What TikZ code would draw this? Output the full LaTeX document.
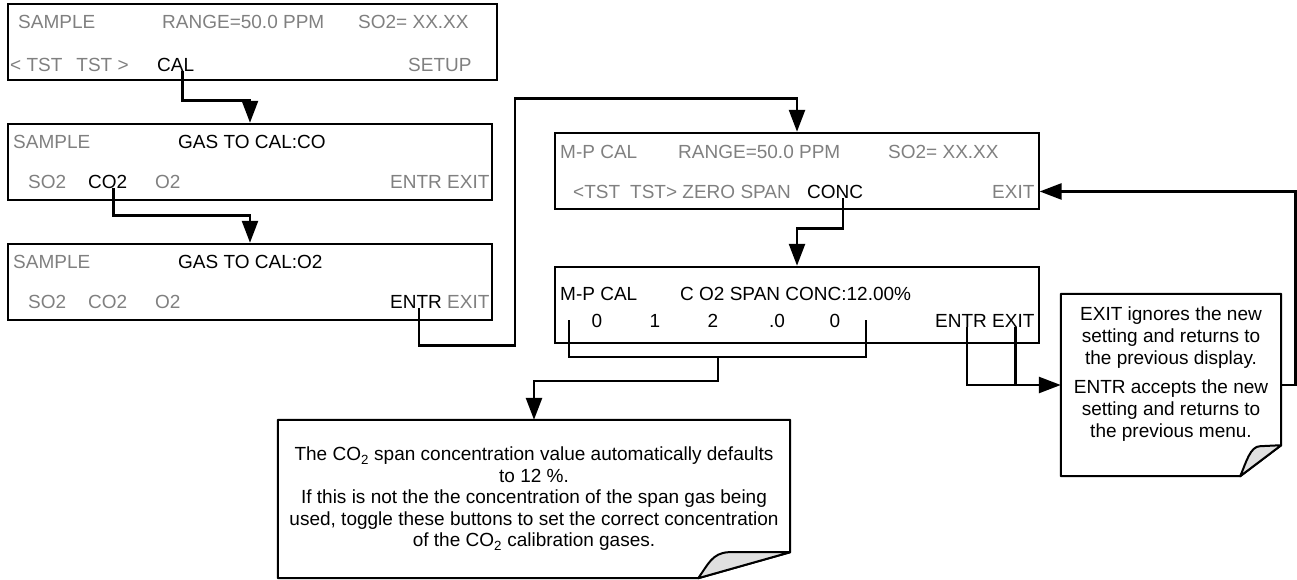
\documentclass[tikz,border=0pt]{standalone}
\usepackage{fontspec}
\setmainfont{Liberation Sans}
\usetikzlibrary{arrows.meta}
\definecolor{dimtext}{RGB}{128,128,128}

\begin{document}
\begin{tikzpicture}[
    x=1pt, y=-1pt,
    font=\fontsize{19}{22}\selectfont,
    display/.style={draw, line width=2.5pt, minimum width=484pt, minimum height=76pt, inner sep=0pt},
    key/.style={anchor=base west, inner sep=0pt, text=dimtext},
    hot/.style={key, text=black},
    digit/.style={anchor=base, inner sep=0pt},
    notebox/.style={minimum width=#1, inner sep=0pt},
    noteline/.style={line width=2pt, line join=round},
    curl/.style={noteline, fill=black!12},
    flow/.style={-{Triangle[length=22pt, width=16pt]}, line width=2.6pt},
    link/.style={line width=2.6pt}
]
\useasboundingbox (0,0) rectangle (1297,579);

\node[display, minimum width=489pt] (box1) at (252.5,42) {};
\node[key] (sample1) at (18,28) {SAMPLE};
\node[key] (range1) at (162,28) {RANGE=50.0 PPM};
\node[key] (conc1) at (358,28) {SO2= XX.XX};
\node[key] (tst1) at (10,71) {< TST\hspace{14pt}TST >};
\node[hot] (cal1) at (157,71) {CAL};
\node[key] (setup1) at (408,71) {SETUP};

\node[display] (box2) at (250,162) {};
\node[key] (sample2) at (13,148) {SAMPLE};
\node[hot] (gas2) at (178,148) {GAS TO CAL:CO};
\node[key] (so2b) at (28,188) {SO2};
\node[hot] (co2b) at (88,188) {CO2};
\node[key] (o2b) at (155,188) {O2};
\node[key] (entr2) at (390,188) {ENTR EXIT};

\node[display] (box3) at (250,282) {};
\node[key] (sample3) at (13,268) {SAMPLE};
\node[hot] (gas3) at (178,268) {GAS TO CAL:O2};
\node[key] (so2c) at (28,308) {SO2};
\node[key] (co2c) at (88,308) {CO2};
\node[key] (o2c) at (155,308) {O2};
\node[hot] (entr3) at (390,308) {ENTR};
\node[key] (exit3) at (447,308) {EXIT};

\node[display] (box4) at (797,171) {};
\node[key] (mpcal4) at (560,158) {M-P CAL};
\node[key] (range4) at (678,158) {RANGE=50.0 PPM};
\node[key] (so2d) at (888,158) {SO2= XX.XX};
\node[key] (tst4) at (573,198) {<TST\hspace{10pt}TST> ZERO SPAN};
\node[hot] (conc4) at (807,198) {CONC};
\node[key] (exit4) at (992,198) {EXIT};

\node[display] (box5) at (797,305) {};
\node[hot] (mpcal5) at (560,300) {M-P CAL};
\node[hot] (span5) at (680,300) {C O2 SPAN CONC:12.00\%};
\node[digit] (d1) at (597,327) {0};
\node[digit] (d2) at (655,327) {1};
\node[digit] (d3) at (713,327) {2};
\node[digit] (d4) at (777,327) {.0};
\node[digit] (d5) at (835,327) {0};
\node[hot] (entr5) at (935,327) {ENTR};
\node[hot] (exit5) at (992,327) {EXIT};

\node[notebox=512pt, minimum height=158pt, align=center,
    font=\fontsize{19}{21.5}\selectfont] (note1) at (534,499)
    {The CO\textsubscript{2} span concentration value automatically defaults\\
     to 12 \%.\\
     If this is not the the concentration of the span gas being\\
     used, toggle these buttons to set the correct concentration\\
     of the CO\textsubscript{2} calibration gases.};
\draw[noteline] (note1.north west) -- (note1.north east)
    -- ([yshift=26pt]note1.south east) -- ([xshift=-92pt]note1.south east)
    -- (note1.south west) -- cycle;
\draw[curl] ([xshift=-92pt]note1.south east)
    .. controls +(10pt,14pt) and +(-16pt,-1pt) .. ([xshift=-62pt,yshift=26pt]note1.south east)
    -- ([yshift=26pt]note1.south east) -- cycle;

\node[notebox=220pt, minimum height=182pt] (note2) at (1171,385) {};
\node[align=center, inner sep=0pt] (note2text) at (1171,374)
    {EXIT ignores the new\\
     setting and returns to\\
     the previous display.\\[7pt]
     ENTR accepts the new\\
     setting and returns to\\
     the previous menu.};
\draw[noteline] (note2.north west) -- (note2.north east)
    -- ([yshift=31pt]note2.south east) -- ([xshift=-41pt]note2.south east)
    -- (note2.south west) -- cycle;
\draw[curl] ([xshift=-41pt]note2.south east)
    .. controls +(6pt,14pt) and +(-10pt,0pt) .. ([xshift=-21pt,yshift=30pt]note2.south east)
    -- ([yshift=31pt]note2.south east) -- cycle;

\coordinate (brl) at (569,320);
\coordinate (brr) at (866,320);
\coordinate (brmid) at (718,357);

\draw[flow] ([xshift=7pt]cal1.south) -- ++(0,29) -| (box2.north);
\draw[flow] ([xshift=6pt]co2b.south) -- ++(0,27) -| (box3.north);
\draw[flow] ([xshift=3pt]entr3.south) -- ++(0,37) -- ++(96,0) -- ++(0,-247) -| (box4.north);
\draw[flow] ([xshift=8pt]conc4.south) -- ++(0,30) -| (box5.north);
\draw[link] (brl) |- (brr |- brmid) -- (brr);
\draw[flow] (brmid) -- ++(0,24) -| (note1.north);
\draw[flow] ([xshift=6pt]entr5.south) |- (note2.west);
\draw[link] ([xshift=2pt]exit5.south) -- ([xshift=2pt]exit5.south |- note2.west);
\draw[flow] (note2.east) -- ++(14,0) |- ([xshift=5pt]exit4.east);
\end{tikzpicture}
\end{document}
